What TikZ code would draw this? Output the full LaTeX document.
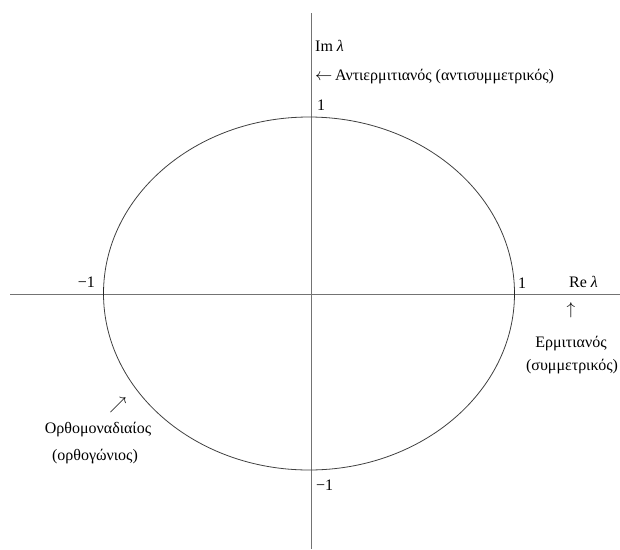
\documentclass[tikz,border=0pt]{standalone}
\usepackage{fontspec}
\setmainfont{Liberation Serif}
\begin{document}
\begin{tikzpicture}[x=1pt,y=-1pt,
  lbl/.style={inner sep=0pt, font=\fontsize{16}{19}\selectfont},
  axis/.style={draw=black!55, line width=0.8pt},
  curve/.style={draw=black!75, line width=0.8pt},
  tick/.style={draw=black!85, line width=1.6pt}]
\useasboundingbox (0,0) rectangle (620,549);
% axes
\coordinate (xl) at (10,294);
\coordinate (xr) at (620,294);
\coordinate (yt) at (311,13);
\coordinate (yb) at (311,549);
\draw[axis] (xl) -- (xr);
\draw[axis] (yt) -- (yb);
% unit circle (ellipse)
\coordinate (O) at (309,293.5);
\draw[curve] (O) ellipse [x radius=205.5, y radius=176.5];
\coordinate (tl1) at (103.5,287);
\coordinate (tl2) at (103.5,296);
\coordinate (tr1) at (514.5,290);
\coordinate (tr2) at (514.5,298);
\draw[tick] (tl1) -- (tl2);
\draw[tick] (tr1) -- (tr2);
% labels
\node[lbl, anchor=base west] (im) at (315,51) {Im \textit{λ}};
\node[lbl, anchor=base west] (anti) at (315,80) {$\leftarrow$\,Αντιερμιτιανός (αντισυμμετρικός)};
\node[lbl, anchor=base west] (one) at (317,110) {1};
\node[lbl, anchor=base east] (m1) at (95,287) {−1};
\node[lbl, anchor=base west] (r1) at (518,288) {1};
\node[lbl, anchor=base west] (re) at (569,287) {Re \textit{λ}};
\node[lbl] (up) at (571,310) {$\uparrow$};
\node[lbl, anchor=base] (herm) at (571,347) {Ερμιτιανός};
\node[lbl, anchor=base] (symm) at (572,370) {(συμμετρικός)};
\node[lbl] (ne) at (118,405) {$\nearrow$};
\node[lbl, anchor=base] (orth) at (98,433) {Ορθομοναδιαίος};
\node[lbl, anchor=base] (orthg) at (95,460) {(ορθογώνιος)};
\node[lbl, anchor=base west] (b1) at (316,490) {−1};
\end{tikzpicture}
\end{document}
